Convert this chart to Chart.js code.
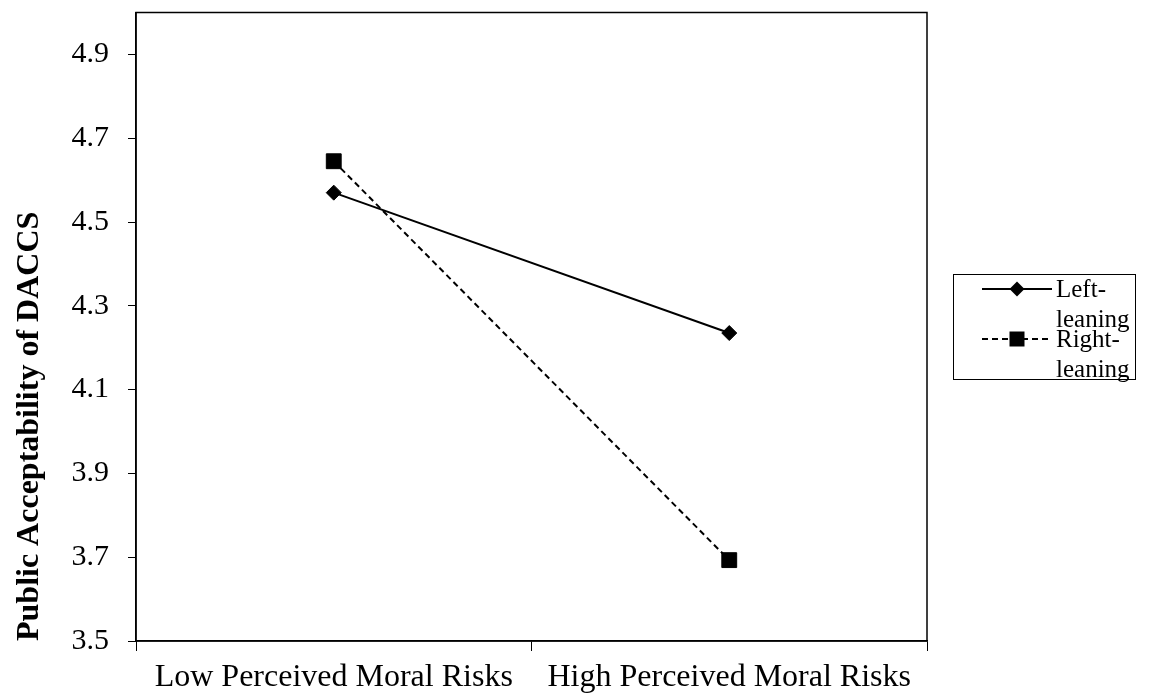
<!DOCTYPE html>
<html>
<head>
<meta charset="utf-8">
<script src="https://cdn.jsdelivr.net/npm/chart.js@4"></script>
<style>
  html, body { margin: 0; padding: 0; background: #fff; }
  #wrap { width: 1155px; height: 693px; }
</style>
</head>
<body>
<div id="wrap"><canvas id="chart" width="1155" height="693"></canvas></div>
<script>
const categories = ['Low Perceived Moral Risks', 'High Perceived Moral Risks'];
const leftLeaning = [4.57, 4.235];
const rightLeaning = [4.645, 3.693];
const yTicks = [3.5, 3.7, 3.9, 4.1, 4.3, 4.5, 4.7, 4.9];
const seriesNames = [['Left-', 'leaning'], ['Right-', 'leaning']];

const serif = '"Liberation Serif", "Times New Roman", serif';

// frame around the plot area and the boxed legend on the right
const framePlugin = {
  id: 'frame',
  afterDraw(chart) {
    const { ctx, chartArea: a } = chart;
    ctx.save();
    ctx.strokeStyle = '#000';
    ctx.lineWidth = 1.5;
    ctx.strokeRect(a.left, a.top, a.right - a.left, a.bottom - a.top);

    // legend
    const bx = 953, by = 274, bw = 182, bh = 105;
    ctx.lineWidth = 1;
    ctx.strokeRect(bx + 0.5, by + 0.5, bw, bh);
    ctx.font = '25px ' + serif;
    ctx.fillStyle = '#000';
    ctx.textBaseline = 'middle';
    const rows = [289, 339];
    chart.data.datasets.forEach((ds, i) => {
      const y = rows[i];
      ctx.beginPath();
      ctx.setLineDash(ds.borderDash || []);
      ctx.lineWidth = 2;
      ctx.moveTo(982, y);
      ctx.lineTo(1052, y);
      ctx.stroke();
      ctx.setLineDash([]);
      ctx.beginPath();
      if (ds.pointStyle === 'rectRot') {
        ctx.moveTo(1017 - 7.5, y);
        ctx.lineTo(1017, y - 7.5);
        ctx.lineTo(1017 + 7.5, y);
        ctx.lineTo(1017, y + 7.5);
      } else {
        ctx.rect(1017 - 7.5, y - 7.5, 15, 15);
      }
      ctx.closePath();
      ctx.fill();
      const lines = seriesNames[i];
      ctx.fillText(lines[0], 1056, y + 1);
      ctx.fillText(lines[1], 1056, y + 31);
    });
    ctx.restore();
  }
};

new Chart(document.getElementById('chart'), {
  type: 'line',
  data: {
    labels: categories,
    datasets: [{
      label: 'Left-leaning',
      data: leftLeaning,
      borderColor: '#000',
      backgroundColor: '#000',
      borderWidth: 2,
      pointStyle: 'rectRot',
      pointRadius: 7.5,
      pointBorderWidth: 1,
      pointBorderColor: '#000',
      pointBackgroundColor: '#000',
      tension: 0
    }, {
      label: 'Right-leaning',
      data: rightLeaning,
      borderColor: '#000',
      backgroundColor: '#000',
      borderWidth: 2,
      borderDash: [6, 4],
      pointStyle: 'rect',
      pointRadius: 10.5,
      pointBorderWidth: 1,
      pointBorderColor: '#000',
      pointBackgroundColor: '#000',
      tension: 0
    }]
  },
  options: {
    responsive: false,
    animation: false,
    layout: { padding: { top: 12.5, right: 228, left: 0, bottom: 0 } },
    plugins: {
      legend: { display: false },
      tooltip: { enabled: false }
    },
    scales: {
      x: {
        type: 'category',
        offset: true,
        border: { display: true, color: '#000', width: 1.5 },
        grid: {
          offset: true,
          drawOnChartArea: false,
          drawTicks: true,
          tickLength: 10,
          color: '#000'
        },
        ticks: {
          color: '#000',
          padding: 7,
          maxRotation: 0,
          font: { family: serif, size: 32 }
        },
        afterFit(scale) {
          scale.height = 52;
          scale.paddingLeft = 0;
          scale.paddingRight = 0;
        }
      },
      y: {
        min: 3.5,
        max: 5.0,
        border: { display: true, color: '#000', width: 1.5 },
        grid: {
          drawOnChartArea: false,
          drawTicks: true,
          tickLength: 8,
          color: '#000'
        },
        afterBuildTicks(scale) {
          scale.ticks = yTicks.map(v => ({ value: v }));
        },
        ticks: {
          color: '#000',
          padding: 19,
          font: { family: serif, size: 30 },
          callback: v => Number(v).toFixed(1)
        },
        title: {
          display: true,
          text: 'Public Acceptability of DACCS',
          align: 'start',
          color: '#000',
          padding: { top: 11, bottom: 0 },
          font: { family: serif, size: 32, weight: 'bold' }
        },
        afterFit(scale) {
          scale.width = 136;
          scale.paddingTop = 0;
          scale.paddingBottom = 0;
        }
      }
    }
  },
  plugins: [framePlugin]
});
</script>
</body>
</html>
